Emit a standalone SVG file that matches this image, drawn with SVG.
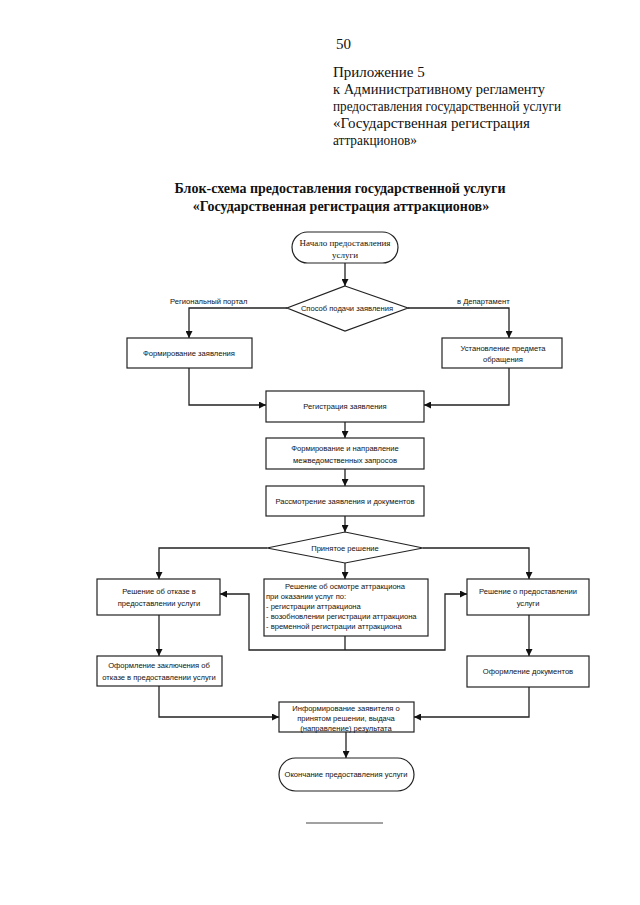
<svg xmlns="http://www.w3.org/2000/svg" width="640" height="905" viewBox="0 0 640 905">
<style>
.hdr{font-family:"Liberation Serif",serif;font-size:15px;fill:#111}
.ttl{font-family:"Liberation Serif",serif;font-size:14px;font-weight:bold;fill:#111;text-anchor:middle}
.box{fill:#fff;stroke:#222;stroke-width:1.2}
.t{font-family:"Liberation Sans",Arial,sans-serif;font-size:7.6px;fill:#111;text-anchor:middle}
.tl{font-family:"Liberation Sans",Arial,sans-serif;font-size:7.6px;fill:#111}
.ts{font-family:"Liberation Serif",serif;font-size:9px;fill:#111;text-anchor:middle}
.ln{fill:none;stroke:#222;stroke-width:1.3}
</style>
<defs>
<marker id="ah" viewBox="0 0 10 10" refX="10" refY="5" markerWidth="7" markerHeight="7" markerUnits="userSpaceOnUse" orient="auto">
<path d="M0,0 L10,5 L0,10 z" fill="#111"/>
</marker>
</defs>
<rect width="640" height="905" fill="#fff"/>
<text class="hdr" x="336" y="49" font-size="11">50</text>
<text class="hdr" x="333" y="77">Приложение 5</text>
<text class="hdr" x="333" y="94" textLength="212" lengthAdjust="spacingAndGlyphs">к Административному регламенту</text>
<text class="hdr" x="333" y="111" textLength="228" lengthAdjust="spacingAndGlyphs">предоставления государственной услуги</text>
<text class="hdr" x="333" y="128" textLength="197" lengthAdjust="spacingAndGlyphs">«Государственная регистрация</text>
<text class="hdr" x="333" y="145" textLength="84" lengthAdjust="spacingAndGlyphs">аттракционов»</text>
<text class="ttl" x="340" y="193">Блок-схема предоставления государственной услуги</text>
<text class="ttl" x="341" y="211">«Государственная регистрация аттракционов»</text>

<g id="connectors">
<path class="ln" d="M345,263 V286" marker-end="url(#ah)"/>
<path class="ln" d="M287,308 H189 V338" marker-end="url(#ah)"/>
<path class="ln" d="M408,308 H509 V338" marker-end="url(#ah)"/>
<path class="ln" d="M189,368 V405 H266" marker-end="url(#ah)"/>
<path class="ln" d="M509,368 V405 H424" marker-end="url(#ah)"/>
<path class="ln" d="M345,422 V438" marker-end="url(#ah)"/>
<path class="ln" d="M345,469 V486" marker-end="url(#ah)"/>
<path class="ln" d="M345,516 V532" marker-end="url(#ah)"/>
<path class="ln" d="M267,548 H159 V579" marker-end="url(#ah)"/>
<path class="ln" d="M423,548 H529 V579" marker-end="url(#ah)"/>
<path class="ln" d="M345,563 V579" marker-end="url(#ah)"/>
<path class="ln" d="M345,636 V650"/>
<path class="ln" d="M345,650 H249 V594 H220" marker-end="url(#ah)"/>
<path class="ln" d="M345,650 H445 V594 H467" marker-end="url(#ah)"/>
<path class="ln" d="M159,615 V656" marker-end="url(#ah)"/>
<path class="ln" d="M529,615 V656" marker-end="url(#ah)"/>
<path class="ln" d="M159,686 V717 H279" marker-end="url(#ah)"/>
<path class="ln" d="M529,687 V717 H414" marker-end="url(#ah)"/>
<path class="ln" d="M346,732 V758" marker-end="url(#ah)"/>
</g>
<text class="tl" x="170" y="304">Региональный портал</text>
<text class="tl" x="457" y="304">в Департамент</text>

<g id="start">
<rect class="box" x="292" y="232" width="106" height="31" rx="15.5"/>
<text class="ts" x="345" y="246">Начало предоставления</text>
<text class="ts" x="345" y="258">услуги</text>
</g>
<g id="method">
<polygon class="box" points="345,286 408,308 345,331 287,308"/>
<text class="t" x="347" y="311" font-size="8">Способ подачи заявления</text>
</g>
<g id="form-app">
<rect class="box" x="127" y="338" width="125" height="30"/>
<text class="t" x="189" y="356">Формирование заявления</text>
</g>
<g id="subject">
<rect class="box" x="442" y="338" width="120" height="30"/>
<text class="t" x="503" y="351">Установление предмета</text>
<text class="t" x="503" y="362">обращения</text>
</g>
<g id="register">
<rect class="box" x="266" y="391" width="158" height="31"/>
<text class="t" x="345" y="409">Регистрация заявления</text>
</g>
<g id="requests">
<rect class="box" x="266" y="438" width="158" height="31"/>
<text class="t" x="345" y="451">Формирование и направление</text>
<text class="t" x="345" y="463">межведомственных запросов</text>
</g>
<g id="review">
<rect class="box" x="266" y="486" width="158" height="30"/>
<text class="t" x="345" y="504">Рассмотрение заявления и документов</text>
</g>
<g id="decision">
<polygon class="box" points="345,532 423,548 345,563 267,548"/>
<text class="t" x="345" y="551">Принятое решение</text>
</g>
<g id="refusal">
<rect class="box" x="97" y="579" width="123" height="36"/>
<text class="t" x="159" y="594">Решение об отказе в</text>
<text class="t" x="159" y="606">предоставлении услуги</text>
</g>
<g id="inspection">
<rect class="box" x="264" y="579" width="164" height="57"/>
<text class="t" x="345" y="589">Решение об осмотре аттракциона</text>
<text class="tl" x="266" y="599">при оказании услуг по:</text>
<text class="tl" x="266" y="609">- регистрации аттракциона</text>
<text class="tl" x="266" y="619">- возобновлении регистрации аттракциона</text>
<text class="tl" x="266" y="629">- временной регистрации аттракциона</text>
</g>
<g id="grant">
<rect class="box" x="467" y="579" width="122" height="36"/>
<text class="t" x="528" y="594">Решение о предоставлении</text>
<text class="t" x="528" y="606">услуги</text>
</g>
<g id="refusal-doc">
<rect class="box" x="97" y="656" width="125" height="30"/>
<text class="t" x="159" y="668">Оформление заключения об</text>
<text class="t" x="159" y="680">отказе в предоставлении услуги</text>
</g>
<g id="docs">
<rect class="box" x="467" y="656" width="122" height="31"/>
<text class="t" x="528" y="674">Оформление документов</text>
</g>
<g id="inform">
<rect class="box" x="279" y="702" width="135" height="30"/>
<text class="t" x="346" y="711">Информирование заявителя о</text>
<text class="t" x="346" y="721">принятом решении, выдача</text>
<text class="t" x="346" y="731">(направление) результата</text>
</g>
<g id="end">
<rect class="box" x="279" y="758" width="135" height="33" rx="16.5"/>
<text class="t" x="346" y="777">Окончание предоставления услуги</text>
</g>
<line x1="306" y1="823" x2="383" y2="823" stroke="#444" stroke-width="1"/>
</svg>
